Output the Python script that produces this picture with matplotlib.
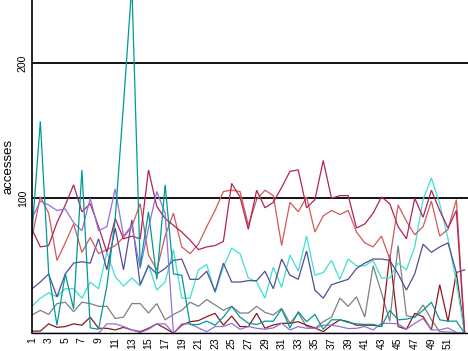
import matplotlib
matplotlib.use("Agg")
import matplotlib.pyplot as plt
import numpy as np

# --- data (53 weeks) ---
weeks = list(range(1, 54))

teal = [74, 157, 45, 6, 44, 18, 121, 4, 3, 35,
        85, 170, 258, 50, 90, 40, 110, 44, 43, 6.5,
        6.5, 9, 6, 12, 20, 12, 7.5, 6.5, 9, 9,
        18, 4, 16, 8.6, 14, 3, 10, 10, 8, 7,
        6.6, 6.6, 5, 17, 10, 10.5, 12, 17, 23, 10,
        9, 9, 0]
crimson = [77, 64, 65, 82, 95, 110, 90, 96, 79, 60, 85, 70, 72,
           70, 121, 94, 85, 80, 75, 69, 62, 64, 65, 68, 111, 101, 77,
           106, 93, 97, 108, 120, 121, 93, 99, 128, 100, 102, 102, 78,
           81, 89, 101, 96, 79, 70, 100, 86, 106, 91, 78, 91, 0]
salmon = [71, 101, 89, 54, 67, 81, 60, 71, 59, 62, 65, 71, 79,
          96, 58, 47, 72, 89, 64, 59, 66, 79, 91, 105, 106, 105, 80,
          99, 106, 102, 65, 97, 90, 101, 75, 87, 91, 88, 91, 75,
          67, 64, 72, 55, 95, 83, 73, 79, 98, 72, 77, 99, 0]
purple_a = [85, 98, 95, 91, 92, 82, 76, 100, 76, 79, 107, 72, 80, 48, 78, 105, 89] + [0] * 36
purple_b = [0] * 9 + [7, 7, 5, 2.5, 0.5, 3, 7, 7, 0, 7,
                      7, 4, 1.2, 5, 5, 7.4, 3, 5, 3.7, 3,
                      4, 7.4, 2.5, 5, 3.7, 3.7, 6, 6, 5, 3.5,
                      3.7, 5, 2.5, 7.4, 7.4, 7, 3, 7.4, 11, 2.5,
                      2.5, 4, 0.7, 0]
slate = [33, 38, 44, 27, 44, 52, 53, 52, 70, 47, 78, 47, 84,
         36, 50, 44, 48, 54, 55, 40, 40, 46, 31, 52, 38, 38, 39,
         39, 46, 33, 55, 43, 40, 61, 32, 26, 36, 38, 40, 48,
         52, 55, 55, 54, 44, 32, 44, 66, 60, 64, 67, 45, 47]
turquoise = [20, 26, 30, 27, 33, 33, 26, 38, 33, 60, 42, 35, 41,
             35, 51, 32, 38, 62, 26, 26, 47, 51, 30, 49, 63, 59, 41,
             38, 26, 49, 34, 58, 46, 72, 43, 45, 54, 40, 55, 50,
             50, 54, 41, 41, 52, 47, 64, 99, 115, 96, 70, 38, 0]
gray = [13.6, 17, 14, 22, 23, 16, 23, 22, 20, 20, 11, 12, 22,
        22, 15, 22, 10, 14, 17, 23, 20, 25, 21, 17, 20, 15, 15,
        20, 15.5, 13.5, 18.5, 7.4, 15, 5, 3.7, 8.6, 12, 26, 20, 27,
        12, 50, 30, 9, 65, 13, 12, 21, 10, 1.2, 1, 0.5, 0]
darkred = [1.6, 1.6, 7, 4.4, 5, 7, 6, 12, 3.7, 3.7, 2.5, 4.4, 2.5,
           1.2, 3.7, 7, 3.7, 0, 6, 8.6, 9.4, 12.3, 14.8, 6, 12.8, 5, 5,
           14.8, 3.7, 6.2, 7.4, 7.4, 8.6, 6, 4, 1.2, 6, 10, 8.6, 6,
           6, 6, 5, 58, 5, 3, 14.8, 12.3, 2.5, 36, 8.6, 45, 0]

xtick_vals = list(range(1, 52, 2))
ytick_vals = [100, 200]

# --- figure ---
plt.rcParams['font.family'] = ['Liberation Sans', 'DejaVu Sans']
fig = plt.figure(figsize=(4.68, 3.51), dpi=100)
ax = fig.add_axes([32 / 468, 17.7 / 351, 436 / 468, 333.3 / 351])

series = [
    (gray, '#808080'),
    (darkred, '#8b1a1a'),
    (turquoise, '#40e0d0'),
    (slate, '#574b96'),
    (salmon, '#d05a5a'),
    (crimson, '#b0245a'),
    (purple_b, '#9370db'),
    (purple_a, '#9370db'),
    (teal, '#009999'),
]
for vals, col in series:
    ax.plot(weeks, vals, color=col, lw=0.9, solid_joinstyle='miter')

ax.set_xlim(1, 53.4)
ax.set_ylim(0, 246.9)

for y in ytick_vals:
    ax.axhline(y, color='black', lw=1.3, zorder=0.5)

ax.spines['top'].set_visible(False)
ax.spines['right'].set_visible(False)
ax.spines['left'].set_linewidth(1.2)
ax.spines['bottom'].set_linewidth(1.0)

ax.set_xticks(xtick_vals)
ax.set_xticklabels([str(v) for v in xtick_vals], rotation=90, fontsize=7.5)
ax.set_yticks(ytick_vals)
ax.set_yticklabels([str(v) for v in ytick_vals], rotation=90, va='center', fontsize=7.5)
ax.tick_params(length=0, pad=3)

ax.set_ylabel('accesses', fontsize=9.5)
ax.yaxis.set_label_coords(-0.04, 0.5)

fig.savefig('out.png', dpi=100)
